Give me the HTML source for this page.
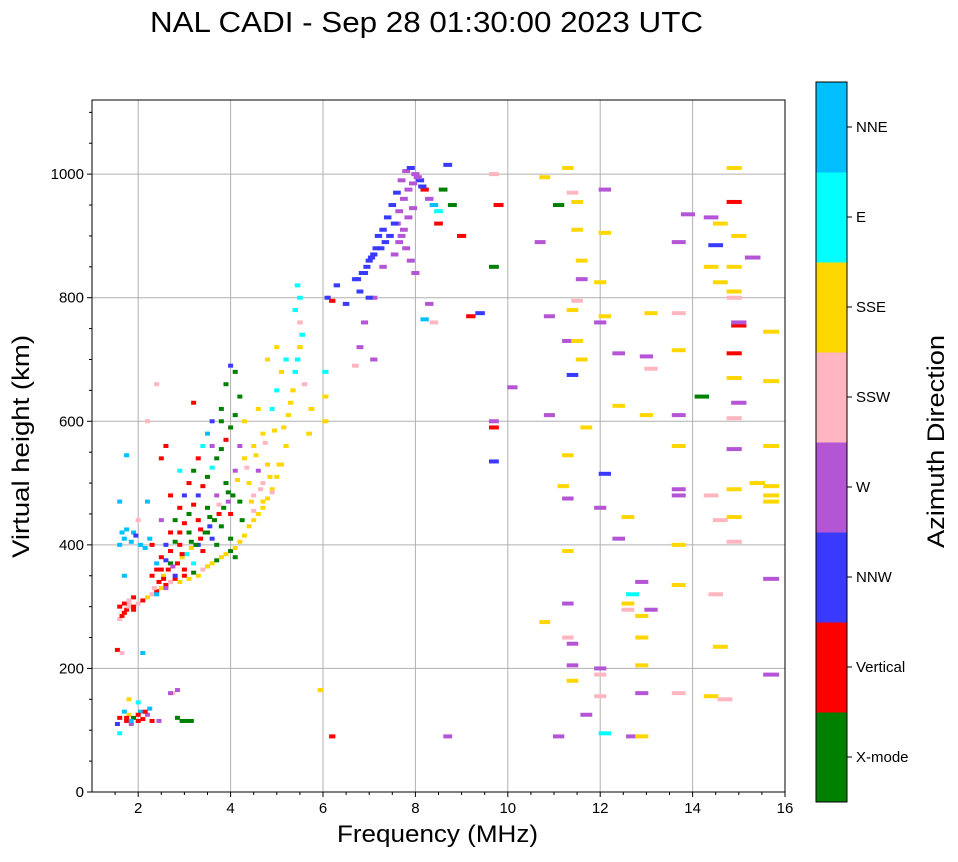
<!DOCTYPE html>
<html><head><meta charset="utf-8"><style>
body{margin:0;background:#fff;font-family:"Liberation Sans","DejaVu Sans",sans-serif;}
svg text{font-family:"Liberation Sans","DejaVu Sans",sans-serif;}
</style></head><body>
<svg id="chart" width="958" height="857" xmlns="http://www.w3.org/2000/svg">
<rect width="958" height="857" fill="#fff"/>
<text x="150" y="32" font-size="29" textLength="553" lengthAdjust="spacingAndGlyphs">NAL CADI - Sep 28 01:30:00 2023 UTC</text>
<g id="grid"></g>
<g id="marks"></g>
<rect x="92" y="100" width="693" height="692" fill="none" stroke="#000" stroke-width="1"/>
<g id="axes"></g>
<text x="337" y="842" font-size="24" textLength="201" lengthAdjust="spacingAndGlyphs">Frequency (MHz)</text>
<text transform="translate(29,558) rotate(-90)" font-size="24" textLength="223" lengthAdjust="spacingAndGlyphs">Virtual height (km)</text>
<g id="cbar"></g>
<text transform="translate(944,548) rotate(-90)" font-size="24" textLength="213" lengthAdjust="spacingAndGlyphs">Azimuth Direction</text>
</svg>
<script>
const dirLabels=["X-mode","Vertical","NNW","W","SSW","SSE","E","NNE"];
const dirColors=["#008000","#ff0000","#3a3aff","#b455d6","#ffb6c1","#ffd700","#00ffff","#00bfff"];
const xTicks=[2,4,6,8,10,12,14,16];
const yTicks=[0,200,400,600,800,1000];
const freqs=[1.55,1.6,1.6,1.7,1.75,1.8,1.85,1.9,2.0,2.05,2.1,2.2,2.25,2.3,2.0,1.8,1.55,1.65,2.1,2.75,2.85,2.95,3.05,3.15,2.85,2.45,2.7,
1.6,1.65,1.7,1.75,1.8,1.9,2.0,2.1,2.2,2.3,2.4,2.5,2.6,2.7,2.8,2.9,3.0,3.1,3.2,3.3,3.4,3.5,3.6,3.7,3.8,3.9,4.0,4.1,4.2,4.3,4.4,4.5,4.6,4.7,4.8,4.9,5.0,5.1,5.2,5.15,5.25,5.3,5.35,5.4,5.45,5.5,5.55,5.5,5.4,5.5,5.45,5.2,5.1,5.0,4.9,5.6,5.75,5.7,6.05,6.05,6.05,6.1,6.2,
2.3,2.4,2.5,2.6,2.7,2.8,2.9,3.0,3.1,3.2,3.3,3.4,3.5,3.6,3.8,3.9,4.0,3.2,2.6,2.5,2.2,2.0,1.9,1.7,1.6,1.6,1.75,1.7,2.4,2.7,2.9,3.1,3.3,3.5,3.7,3.9,4.1,4.3,4.5,4.7,4.2,4.0,3.8,3.6,3.4,3.2,3.0,2.8,2.6,2.4,2.3,2.5,2.7,2.9,3.1,3.3,3.5,3.7,4.0,4.1,4.2,4.4,4.6,4.8,4.5,4.7,4.3,4.6,4.8,5.0,4.2,4.1,3.8,3.6,2.2,2.4,
2.35,2.45,2.55,2.65,2.75,2.85,2.95,3.05,3.15,3.25,3.35,3.45,3.55,3.65,3.75,3.85,3.95,4.05,2.5,2.6,2.7,2.8,2.9,3.0,3.1,3.2,3.3,3.4,3.5,3.6,3.7,3.8,3.9,4.0,4.1,2.55,2.75,2.95,3.15,3.35,3.55,3.75,3.95,4.15,4.35,4.55,4.75,4.95,4.45,4.65,4.85,5.05,4.25,4.5,4.7,4.9,1.7,1.8,1.9,1.75,1.85,2.0,2.15,1.65,1.75,1.85,1.95,2.05,2.15,2.25,1.6,1.7,1.8,1.9,
6.3,6.5,6.7,6.8,6.9,7.0,7.1,7.15,7.2,7.3,7.4,7.5,7.6,7.7,7.8,7.9,8.0,8.1,8.2,8.3,8.4,8.5,8.6,8.7,7.6,7.7,7.8,7.9,8.0,7.3,7.1,6.9,6.8,6.7,7.1,7.0,8.3,8.8,9.0,8.5,8.2,8.4,9.2,9.4,9.7,9.7,9.8,9.7,9.7,9.7,
6.75,6.85,6.95,7.05,7.25,7.35,7.45,7.55,7.65,7.75,7.85,7.95,8.05,8.15,7.55,7.65,7.75,7.85,7.95,
10.1,10.8,10.7,10.9,10.9,11.1,11.3,11.4,11.5,11.5,11.6,11.6,11.5,11.4,11.3,11.5,11.6,11.4,11.7,11.3,11.2,11.3,11.3,10.8,11.3,11.3,11.4,11.4,11.4,11.7,11.1,12.1,12.1,12.0,12.0,12.1,12.4,12.4,12.1,12.0,12.4,12.6,12.7,12.6,12.6,12.9,12.9,12.9,12.0,12.0,12.0,12.1,12.7,12.9,12.9,13.1,12.9,13.0,13.0,13.1,13.1,13.7,13.7,13.7,13.7,13.7,13.7,13.7,13.7,13.7,13.7,13.9,14.2,14.4,14.5,14.4,14.6,14.4,14.5,14.6,14.4,14.7,14.6,14.6,14.9,14.9,15.0,15.0,15.0,14.9,14.9,15.0,14.9,14.9,14.9,14.9,15.3,15.4,15.7,15.7,15.7,15.7,15.7,15.7,15.7,15.7,14.9,14.9,14.9,14.9,5.95,6.2,8.7];
const heights=[110,120,95,130,115,125,110,120,115,130,118,125,135,115,145,150,230,225,225,160,165,115,115,115,120,115,160,
280,285,290,295,300,295,305,310,315,320,325,330,335,340,345,340,350,345,355,350,360,365,370,375,380,385,390,395,405,415,430,440,450,460,475,490,510,530,560,590,610,630,650,680,700,720,740,760,780,800,820,700,680,650,620,660,620,580,600,640,680,800,795,
350,370,380,400,420,440,460,480,500,520,540,560,580,600,620,660,690,630,560,540,470,440,420,410,400,470,545,350,320,370,400,420,440,460,480,500,520,540,560,580,470,450,430,410,390,370,360,350,330,360,400,440,480,520,450,400,420,400,410,380,560,500,520,530,480,500,600,620,700,720,640,680,600,560,600,660,
330,340,350,360,365,370,380,385,395,400,410,420,430,440,450,460,470,480,360,375,390,405,420,435,450,465,480,495,510,525,540,555,570,590,610,345,365,385,405,425,445,465,485,505,525,545,565,585,470,490,510,530,440,455,470,485,290,305,315,120,115,125,130,420,425,405,415,400,395,410,300,305,310,300,
820,790,830,810,840,860,870,880,900,910,930,950,970,990,1005,1010,1000,990,975,960,950,940,975,1015,920,900,880,860,840,850,800,760,720,690,700,800,790,950,900,920,765,760,770,775,850,1000,950,600,590,535,
830,840,850,865,880,890,900,920,940,960,975,985,995,980,870,890,910,930,945,
655,995,890,770,610,950,1010,970,955,910,860,830,795,780,730,730,700,675,590,545,495,475,390,275,305,250,240,205,180,125,90,975,905,825,760,770,710,625,515,460,410,445,320,305,295,285,250,205,200,190,155,95,90,90,340,295,160,610,705,775,685,890,775,715,610,560,400,335,490,480,160,935,640,930,885,850,825,480,320,235,155,150,440,920,1010,955,900,755,760,710,670,630,555,490,445,405,865,500,745,665,560,495,480,470,345,190,810,850,800,605,165,90,90];
const dirs=[2,1,6,7,1,5,3,0,1,7,1,3,7,1,6,5,1,4,7,4,3,0,0,0,0,3,3,
4,1,5,1,4,1,4,1,5,4,1,5,1,4,1,5,1,5,0,5,4,5,5,0,5,5,0,5,5,5,5,5,5,5,5,5,5,5,5,5,5,5,5,6,6,5,6,4,6,6,6,6,5,6,6,4,5,5,5,5,6,2,1,
1,7,1,2,1,0,1,2,1,0,1,6,7,2,0,0,2,1,1,1,7,4,7,7,7,7,7,7,7,0,1,0,1,0,3,0,3,5,5,5,0,1,0,2,1,6,1,2,3,1,1,3,1,6,0,2,0,0,0,0,3,5,3,5,4,4,5,5,5,5,0,0,0,3,4,4,
4,1,5,1,5,1,5,6,5,0,1,0,2,0,1,0,3,0,1,2,1,0,1,1,0,1,2,1,0,6,0,0,1,0,0,1,3,1,0,1,0,4,0,5,4,5,4,5,5,4,5,5,0,4,5,4,1,4,1,1,7,1,1,7,7,7,2,7,7,7,1,1,4,1,
2,2,2,2,2,2,2,2,2,2,2,2,2,3,3,2,3,2,1,3,7,6,0,2,3,3,3,3,3,3,3,3,3,4,3,2,3,0,1,1,7,4,1,2,0,4,1,3,1,2,
2,2,2,2,2,2,2,2,3,3,3,3,3,2,3,3,3,3,3,
3,5,3,3,3,0,5,4,5,5,5,3,4,5,3,5,5,2,5,5,5,3,5,5,3,4,3,3,5,3,3,3,5,5,3,5,3,5,2,3,3,5,6,5,4,5,5,5,3,4,4,6,3,5,3,3,3,5,3,5,4,3,4,5,3,5,5,5,3,3,4,3,0,3,2,5,5,4,4,5,5,4,4,5,5,1,5,1,3,1,5,3,3,5,5,4,3,5,5,5,5,5,5,5,3,3,5,5,4,4,5,1,3];

const X0=92,X1=785,Y0=792,Y1=100;
const xs=f=>X0+(f-1)/(16-1)*(X1-X0);
const ys=h=>Y0-h/1120*(Y0-Y1);
const NS="http://www.w3.org/2000/svg";
function mk(tag,attrs,parent){const e=document.createElementNS(NS,tag);for(const k in attrs)e.setAttribute(k,attrs[k]);parent.appendChild(e);return e;}
const grid=document.getElementById('grid'),axes=document.getElementById('axes'),marks=document.getElementById('marks'),cbar=document.getElementById('cbar');
xTicks.forEach(t=>{const x=xs(t);
 if(t<16){const g=mk('line',{x1:x,x2:x,y1:Y1,y2:Y0,stroke:'#b0b0b0','stroke-width':1},grid);
 }
 const tk=mk('line',{x1:x,x2:x,y1:Y0,y2:Y0+5,stroke:'#000'},axes);
 
 const tx=mk('text',{x:x,y:Y0+21,'font-size':15,'text-anchor':'middle'},axes);tx.textContent=t;
 });
for(let f=1.5;f<16;f+=0.5){if(Math.abs(f-Math.round(f/2)*2)<0.01)continue;const x=xs(f);
 const m=mk('line',{x1:x,x2:x,y1:Y0,y2:Y0+3,stroke:'#000'},axes);
 }
yTicks.forEach(t=>{const y=ys(t);
 if(t>0){const g=mk('line',{x1:X0,x2:X1,y1:y,y2:y,stroke:'#b0b0b0','stroke-width':1},grid);
 }
 const tk=mk('line',{x1:X0-5,x2:X0,y1:y,y2:y,stroke:'#000'},axes);
 
 const tx=mk('text',{x:X0-8,y:y+5,'font-size':15,'text-anchor':'end'},axes);tx.textContent=t;
 });
for(let h=50;h<1120;h+=50){if(h%200===0)continue;const y=ys(h);
 const m=mk('line',{x1:X0-3,x2:X0,y1:y,y2:y,stroke:'#000'},axes);
 }
for(let i=0;i<freqs.length;i++){
 const f=freqs[i],h=heights[i];
 const w=Math.max(5,0.022*f*(X1-X0)/15);
 const r=mk('rect',{x:xs(f)-w/2,y:ys(h)-2,width:w,height:4,fill:dirColors[dirs[i]]},marks);
 }
const CX=816,CW=31,CT=82,CB=802,seg=(CB-CT)/dirLabels.length;
dirLabels.forEach((lab,i)=>{const y=CB-(i+1)*seg;
 const r=mk('rect',{x:CX,y:y,width:CW,height:seg+0.5,fill:dirColors[i]},cbar);
 
 const tk=mk('line',{x1:CX+CW,x2:CX+CW+5,y1:y+seg/2,y2:y+seg/2,stroke:'#000'},cbar);
 
 const t=mk('text',{x:CX+CW+9,y:y+seg/2+5,'font-size':15},cbar);t.textContent=lab;
 });
const fr=mk('rect',{x:CX,y:CT,width:CW,height:CB-CT,fill:'none',stroke:'#000'},cbar);

</script>
</body></html>
